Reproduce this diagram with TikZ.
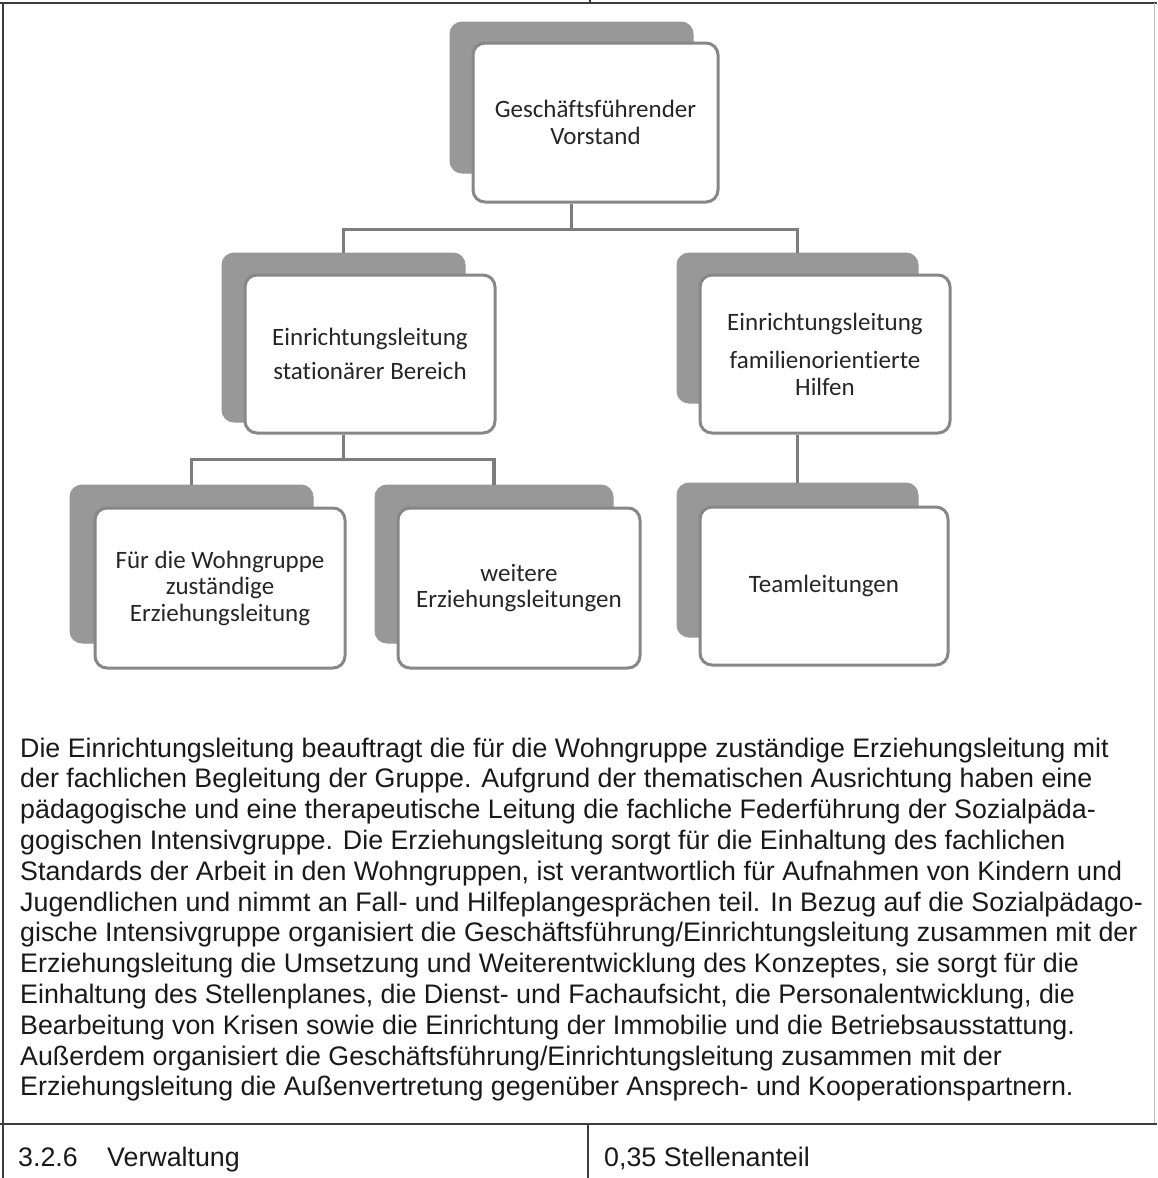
\documentclass[tikz,border=0pt]{standalone}
\usepackage{fontspec}
\newfontfamily\boxfont[Ligatures=NoCommon]{Carlito}
\newfontfamily\bodyfont{Liberation Sans}
\definecolor{shadowgray}{RGB}{152,152,152}
\definecolor{bordergray}{RGB}{135,135,135}
\definecolor{linegray}{RGB}{125,125,125}
\definecolor{framegray}{RGB}{60,60,60}
\tikzset{
  shadowbox/.style={draw=shadowgray, fill=shadowgray, rounded corners=12pt, line width=1pt, inner sep=0pt},
  mainbox/.style={draw=bordergray, fill=white, rounded corners=12pt, line width=3pt, inner sep=0pt, align=center,
    font=\boxfont\fontsize{25}{26.5}\selectfont, text=black!85},
  conn/.style={draw=linegray, line width=3.5pt},
  frameline/.style={draw=framegray, line width=1.6pt},
  bodyline/.style={anchor=base west, inner sep=0pt, font=\bodyfont\fontsize{26.8}{30.8}\selectfont, text=black!90}
}
\begin{document}
\begin{tikzpicture}[x=1pt,y=-1pt]
\useasboundingbox (0,0) rectangle (1157,1178);
% frame
\draw[frameline] (0,3) -- (1157,3);
\draw[frameline] (590,0) -- (590,3);
\draw[frameline] (3,3) -- (3,1178);
\draw[draw=black!25, line width=1pt] (1154,3) -- (1154,1124);
\draw[frameline] (0,1124) -- (1157,1124);
\draw[frameline] (588,1124) -- (588,1178);

% shadows
\node[shadowbox, minimum width=243pt, minimum height=151pt] (topS) at (571.5,97.5) {};
\node[shadowbox, minimum width=243pt, minimum height=169pt] (midLS) at (343.5,337.5) {};
\node[shadowbox, minimum width=241pt, minimum height=150pt] (midRS) at (797.5,328) {};
\node[shadowbox, minimum width=241pt, minimum height=154pt] (teamS) at (797.5,560) {};
\node[shadowbox, minimum width=243pt, minimum height=158pt] (botLS) at (191.5,564) {};
\node[shadowbox, minimum width=238pt, minimum height=158pt] (botMS) at (494,564) {};

% main boxes
\node[mainbox, minimum width=245pt, minimum height=159pt] (top) at (595.5,122.5) {Geschäftsführender\\Vorstand};
\node[mainbox, minimum width=250pt, minimum height=158pt] (midL) at (370,354) {Einrichtungsleitung\\[7pt]stationärer Bereich};
\node[mainbox, minimum width=250pt, minimum height=158pt] (midR) at (825,354) {Einrichtungsleitung\\[12pt]familienorientierte\\Hilfen};
\node[mainbox, minimum width=248pt, minimum height=158pt] (team) at (824,586) {Teamleitungen};
\node[mainbox, minimum width=250pt, minimum height=160pt] (botL) at (220,588) {Für die Wohngruppe\\zuständige\\Erziehungsleitung};
\node[mainbox, minimum width=242pt, minimum height=160pt] (botM) at (519,588) {weitere\\Erziehungsleitungen};

% connectors
\draw[conn] (topS.center |- top.south) -- ++(0,26) coordinate (j1) -| (midLS.north);
\draw[conn] (j1) -| (midRS.north);
\draw[conn] (midLS.center |- midL.south) -- ++(0,25) coordinate (j2) -| (botLS.north);
\draw[conn] (j2) -| (botMS.north);
\draw[conn] (midRS.center |- midR.south) -- (teamS.north);

% body text
\node[bodyline] (l1) at (20,757) {Die Einrichtungsleitung beauftragt die für die Wohngruppe zuständige Erziehungsleitung mit};
\node[bodyline] (l2) at (20,787.8) {der fachlichen Begleitung der Gruppe. Aufgrund der thematischen Ausrichtung haben eine};
\node[bodyline] (l3) at (20,818.6) {pädagogische und eine therapeutische Leitung die fachliche Federführung der Sozialpäda-};
\node[bodyline] (l4) at (20,849.4) {gogischen Intensivgruppe. Die Erziehungsleitung sorgt für die Einhaltung des fachlichen};
\node[bodyline] (l5) at (20,880.2) {Standards der Arbeit in den Wohngruppen, ist verantwortlich für Aufnahmen von Kindern und};
\node[bodyline] (l6) at (20,911) {Jugendlichen und nimmt an Fall- und Hilfeplangesprächen teil. In Bezug auf die Sozialpädago-};
\node[bodyline] (l7) at (20,941.8) {gische Intensivgruppe organisiert die Geschäftsführung/Einrichtungsleitung zusammen mit der};
\node[bodyline] (l8) at (20,972.6) {Erziehungsleitung die Umsetzung und Weiterentwicklung des Konzeptes, sie sorgt für die};
\node[bodyline] (l9) at (20,1003.4) {Einhaltung des Stellenplanes, die Dienst- und Fachaufsicht, die Personalentwicklung, die};
\node[bodyline] (l10) at (20,1034.2) {Bearbeitung von Krisen sowie die Einrichtung der Immobilie und die Betriebsausstattung.};
\node[bodyline] (l11) at (20,1065) {Außerdem organisiert die Geschäftsführung/Einrichtungsleitung zusammen mit der};
\node[bodyline] (l12) at (20,1095.8) {Erziehungsleitung die Außenvertretung gegenüber Ansprech- und Kooperationspartnern.};

% bottom row
\node[bodyline] (num) at (18,1166) {3.2.6};
\node[bodyline] (sec) at (107,1166) {Verwaltung};
\node[bodyline] (share) at (604,1166) {0,35 Stellenanteil};
\end{tikzpicture}
\end{document}
